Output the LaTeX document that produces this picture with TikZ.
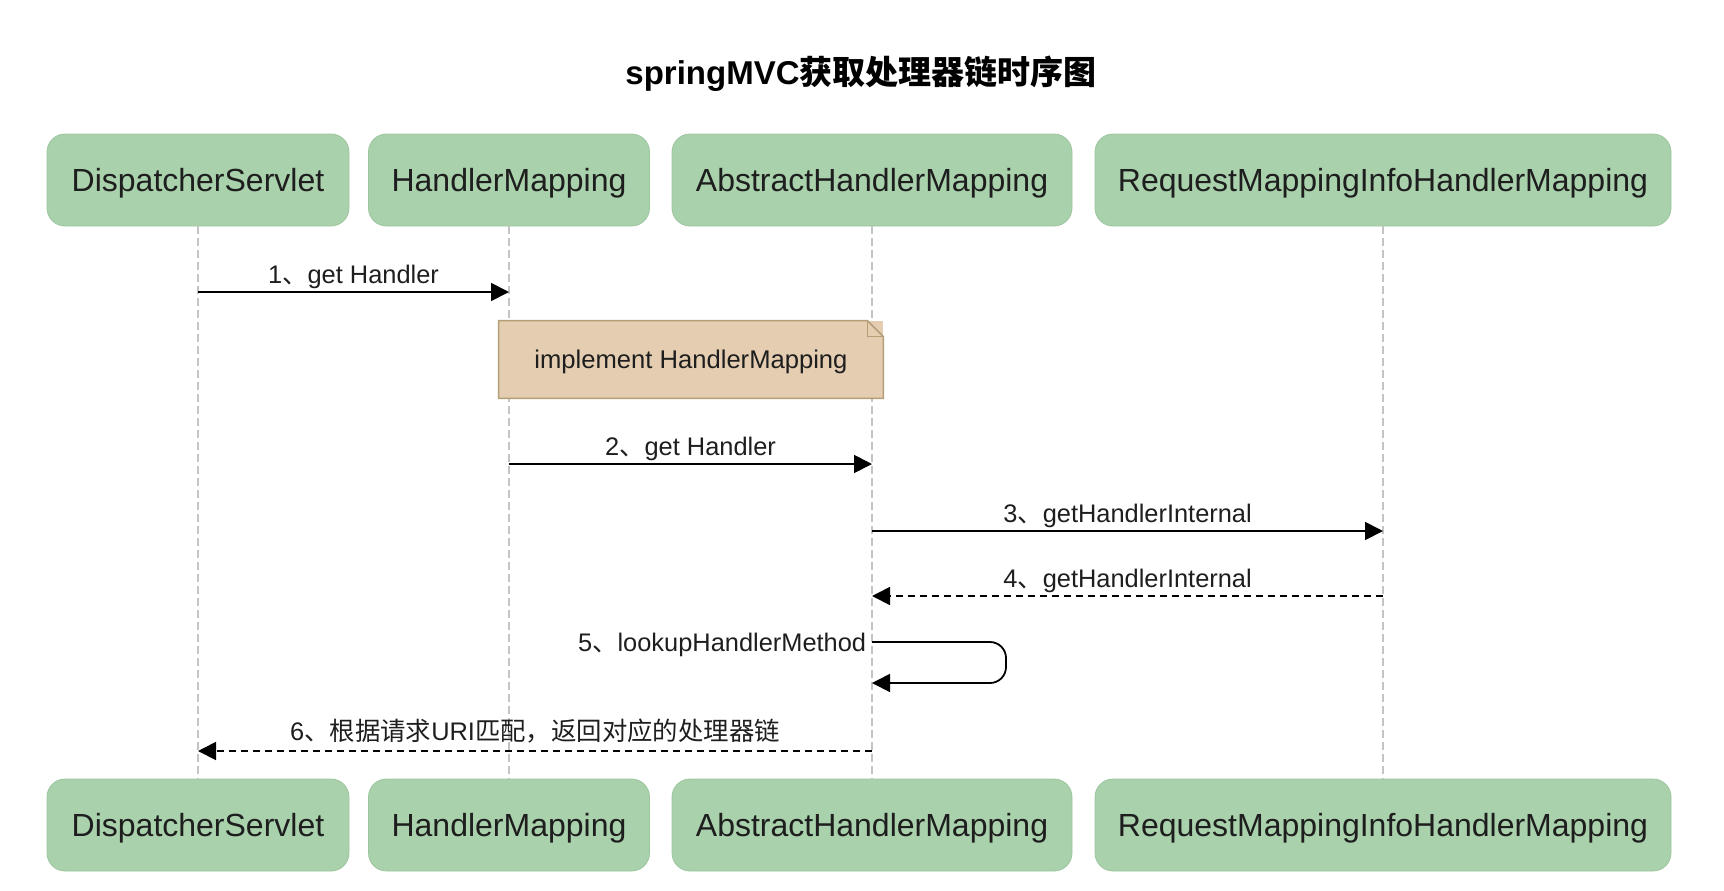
\documentclass[tikz,border=0pt]{standalone}
\usepackage{fontspec}
\setmainfont{Liberation Sans}
\newfontfamily\cjk{Noto Sans CJK SC}
\newcommand\zh[1]{{\cjk #1}}
\usetikzlibrary{arrows.meta,calc,positioning}
\definecolor{sqink}{HTML}{1E1E1E}
\definecolor{sqgreen}{HTML}{A9D1AB}
\definecolor{sqgreenline}{HTML}{9CC59E}
\definecolor{sqtan}{HTML}{E4CDB1}
\definecolor{sqtanline}{HTML}{B39E78}
\definecolor{sqgray}{HTML}{C4C4C4}
\tikzset{
  sq actor/.style={draw=sqgreenline, line width=0.4pt, fill=sqgreen, rounded corners=9pt,
    minimum height=46pt, inner sep=0pt, text depth=0pt, font=\fontsize{16}{19}\selectfont, text=sqink},
  sq life/.style={draw=sqgray, line width=0.6pt, dash pattern=on 4pt off 2pt},
  sq msg/.style={-{Triangle[length=9pt,width=9pt]}, line width=0.9pt, draw=black},
  sq ret/.style={sq msg, dash pattern=on 3.5pt off 2.5pt},
  sq label/.style={font=\fontsize{12.7}{15}\selectfont, text=sqink, inner sep=1pt},
  sq note/.style={fill=sqtan, minimum width=192pt, minimum height=38.5pt, inner sep=0pt,
    text depth=0pt, font=\fontsize{12.8}{15}\selectfont, text=sqink},
  sq title/.style={font=\bfseries\fontsize{16.5}{20}\selectfont, text=black}
}
\begin{document}
\begin{tikzpicture}[x=0.5pt, y=-0.5pt]
  \useasboundingbox (0,0) rectangle (1724,890);
  \node[sq title] (title) at (861,74) {springMVC\zh{获取处理器链时序图}};
  % participants, top row
  \node[sq actor, minimum width=151pt] (ds) at (198,180) {DispatcherServlet};
  \node[sq actor, minimum width=140.5pt] (hm) at (509,180) {HandlerMapping};
  \node[sq actor, minimum width=200pt] (ahm) at (872,180) {AbstractHandlerMapping};
  \node[sq actor, minimum width=288pt] (rm) at (1383,180) {RequestMappingInfoHandlerMapping};
  % participants, bottom row
  \node[sq actor, minimum width=151pt] (dsb) at (198,825) {DispatcherServlet};
  \node[sq actor, minimum width=140.5pt] (hmb) at (509,825) {HandlerMapping};
  \node[sq actor, minimum width=200pt] (ahmb) at (872,825) {AbstractHandlerMapping};
  \node[sq actor, minimum width=288pt] (rmb) at (1383,825) {RequestMappingInfoHandlerMapping};
  % lifelines
  \draw[sq life] (ds.south) -- (dsb.north);
  \draw[sq life] (hm.south) -- (hmb.north);
  \draw[sq life] (ahm.south) -- (ahmb.north);
  \draw[sq life] (rm.south) -- (rmb.north);
  % note
  \node[sq note] (note) at (691,359.5) {implement HandlerMapping};
  \draw[sqtanline, line width=0.8pt] (note.south west) -- (note.north west)
    -- ($(note.north east)+(-8pt,0)$) -- ($(note.north east)+(0,-8pt)$)
    -- (note.south east) -- cycle;
  \draw[sqtanline, line width=0.8pt] ($(note.north east)+(-8pt,0)$)
    -- ($(note.north east)+(-8pt,-8pt)$) -- ($(note.north east)+(0,-8pt)$);
  % messages
  \draw[sq msg] (ds |- 0,292) -- node[sq label, above] {1\zh{、}get Handler} (hm |- 0,292);
  \draw[sq msg] (hm |- 0,464) -- node[sq label, above] {2\zh{、}get Handler} (ahm |- 0,464);
  \draw[sq msg] (ahm |- 0,531) -- node[sq label, above] {3\zh{、}getHandlerInternal} (rm |- 0,531);
  \draw[sq ret] (rm |- 0,596) -- node[sq label, above] {4\zh{、}getHandlerInternal} (ahm |- 0,596);
  \draw[sq msg, rounded corners=8pt] (ahm |- 0,642) node[sq label, left, xshift=-1.5pt, yshift=-1.5pt] {5\zh{、}lookupHandlerMethod}
    -- (1006,642) -- (1006,683) -- (ahm |- 0,683);
  \draw[sq ret] (ahm |- 0,751) -- node[sq label, above, yshift=2.5pt] {6\zh{、根据请求}URI\zh{匹配，返回对应的处理器链}} (ds |- 0,751);
\end{tikzpicture}
\end{document}
